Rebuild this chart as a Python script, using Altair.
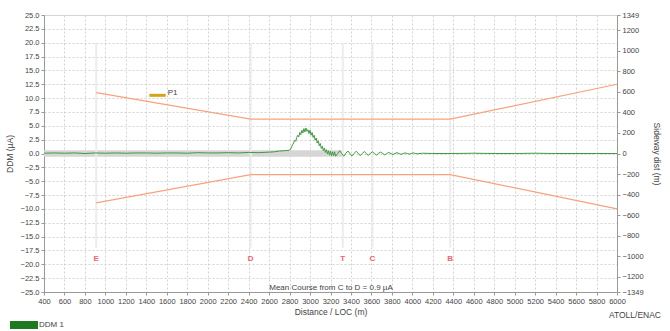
import altair as alt
import pandas as pd

# ---- DDM trace (distance in m, DDM in µA) ----
ddm_dist = [
    400, 500, 600, 700, 800, 900, 1000, 1100, 1200, 1300, 1400, 1500, 1600, 1700,
    1800, 1900, 2000, 2100, 2200, 2300, 2400, 2500, 2600, 2650, 2700, 2750,
    2800, 2810, 2820, 2830, 2840, 2850, 2860, 2870, 2880, 2890, 2900, 2910, 2920,
    2930, 2940, 2950, 2960, 2970, 2980, 2990, 3000, 3010, 3020, 3030, 3040, 3050,
    3060, 3070, 3080, 3090, 3100, 3110, 3120, 3130, 3140, 3150, 3160, 3170, 3180,
    3190, 3200, 3210, 3220, 3230, 3240,
    3250, 3270, 3290, 3310, 3330, 3350, 3370, 3390, 3410, 3430, 3450, 3470, 3490,
    3510, 3530, 3550, 3570, 3590, 3610, 3630, 3650, 3670, 3690, 3710, 3730, 3750,
    3770, 3790, 3810, 3830, 3850, 3870, 3890, 3910, 3930, 3950, 3970, 3990, 4010,
    4030, 4050, 4100, 4200, 4400, 4600, 4800, 5000, 5200, 5400, 5600, 5800, 6000,
]
ddm_value = [
    0.05, 0.1, 0.05, 0.1, 0.0, 0.1, 0.05, 0.1, 0.05, 0.1, 0.1, 0.05, 0.1, 0.1,
    0.05, 0.15, 0.1, 0.1, 0.15, 0.1, 0.2, 0.15, 0.25, 0.3, 0.45, 0.5,
    0.6, 0.8, 1.2, 1.6, 1.9, 2.4, 2.2, 2.9, 3.3, 3.0, 3.8, 3.4, 4.2,
    3.7, 4.5, 3.9, 4.6, 4.0, 4.3, 3.6, 4.2, 3.3, 3.8, 2.9, 3.3, 2.4,
    2.8, 1.9, 2.3, 1.4, 1.8, 0.9, 1.3, 0.5, 1.0, 0.2, 0.7, -0.1, 0.5,
    -0.3, 0.4, -0.4, 0.3, -0.4, 0.3,
    -0.5, 0.0, 0.5, 0.0, -0.5, 0.05, 0.45, 0.0, -0.45, 0.0, 0.4, 0.05, -0.4,
    0.0, 0.35, 0.0, -0.35, 0.05, 0.3, 0.0, -0.3, 0.05, 0.25, 0.0, -0.25, 0.0,
    0.2, 0.0, -0.2, 0.0, 0.15, 0.0, -0.15, 0.0, 0.1, 0.0, -0.1, 0.0, 0.1,
    0.0, -0.05, 0.05, 0.0, 0.0, 0.05, 0.0, 0.0, 0.05, 0.0, 0.0, 0.0, 0.0,
]

# ---- tolerance envelope ----
limit_dist = [910, 2420, 4370, 6000]
limit_upper = [11.0, 6.2, 6.2, 12.5]
limit_lower = [-8.9, -3.8, -3.8, -10.0]

# ---- reference points along the approach ----
point_names = ["E", "D", "T", "C", "B"]
point_dist = [910, 2420, 3320, 3610, 4370]

# ---- grey band around the course line ----
band_start, band_end = [400], [3320]
band_low, band_high = [-0.6], [0.6]

# ---- P1 marker ----
p1_start, p1_end, p1_ddm = [1430], [1590], [10.5]

x_ticks = list(range(400, 6001, 200))
y_ticks = [v / 2 for v in range(-50, 51, 5)]
side_ticks = [-1349, -1200, -1000, -800, -600, -400, -200, 0,
              200, 400, 600, 800, 1000, 1200, 1349]

FONT = "Liberation Sans"
TXT = "#444444"

x_scale = alt.Scale(domain=[400, 6000], nice=False, zero=False)
y_scale = alt.Scale(domain=[-25, 25], nice=False)

x_axis = alt.Axis(values=x_ticks, format="d", title="Distance / LOC (m)",
                  labelOverlap=False, labelFlush=False, grid=True, gridDash=[2, 2],
                  gridColor="#d2d2d2", labelFontSize=7.5, titleFontSize=8.5,
                  titleFontWeight="normal", labelColor=TXT, titleColor=TXT,
                  domainColor="#999999", tickColor="#999999", tickSize=3,
                  labelPadding=2, titlePadding=3, labelFont=FONT, titleFont=FONT)
y_axis = alt.Axis(values=y_ticks, format=".1f", title="DDM (µA)", labelOverlap=False,
                  labelFlush=False, grid=True, gridDash=[2, 2], gridColor="#d2d2d2",
                  labelFontSize=7.5, titleFontSize=8.5, titleFontWeight="normal",
                  labelColor=TXT, titleColor=TXT, domainColor="#999999",
                  tickColor="#999999", tickSize=3, labelPadding=2, titlePadding=6,
                  labelFont=FONT, titleFont=FONT)


def X(field):
    return alt.X(field, type="quantitative", scale=x_scale, axis=x_axis)


def Y(field):
    return alt.Y(field, type="quantitative", scale=y_scale, axis=y_axis)


ddm_df = pd.DataFrame({"dist": ddm_dist, "ddm": ddm_value})
lim_df = pd.DataFrame({"dist": limit_dist, "upper": limit_upper, "lower": limit_lower})
pt_df = pd.DataFrame({"dist": point_dist, "name": point_names,
                      "top": [20.0] * len(point_dist), "bot": [-17.0] * len(point_dist),
                      "lab": [-19.0] * len(point_dist)})
band_df = pd.DataFrame({"x1": band_start, "x2": band_end, "y1": band_low, "y2": band_high})
p1_df = pd.DataFrame({"x1": p1_start, "x2": p1_end, "y": p1_ddm, "t": ["P1"]})

band = alt.Chart(band_df).mark_rect(color="#d6d6d6").encode(
    x=X("x1"), x2="x2:Q", y=Y("y1"), y2="y2:Q")

point_rules = alt.Chart(pt_df).mark_rule(color="#ececec", strokeWidth=2).encode(
    x=X("dist"), y=Y("top"), y2="bot:Q")

point_labels = alt.Chart(pt_df).mark_text(color="#f06070", fontSize=8, font=FONT,
                                          fontWeight="bold").encode(
    x=X("dist"), y=Y("lab"), text="name:N")

upper = alt.Chart(lim_df).mark_line(color="#f8a27c", strokeWidth=1.2).encode(
    x=X("dist"), y=Y("upper"))
lower = alt.Chart(lim_df).mark_line(color="#f8a27c", strokeWidth=1.2).encode(
    x=X("dist"), y=Y("lower"))

ddm_line = alt.Chart(ddm_df).mark_line(color="#3f9b3f", strokeWidth=1).encode(
    x=X("dist"), y=Y("ddm"))

p1_bar = alt.Chart(p1_df).mark_rule(color="#d4a418", strokeWidth=3).encode(
    x=X("x1"), x2="x2:Q", y=Y("y"))
p1_text = alt.Chart(p1_df).mark_text(align="left", baseline="bottom", dx=2, dy=2,
                                     fontSize=8, font=FONT, color=TXT).encode(
    x=X("x2"), y=Y("y"), text="t:N")

note_df = pd.DataFrame({"t": ["Mean Course from C to D = 0.9 µA"]})
note = alt.Chart(note_df).mark_text(fontSize=8, font=FONT, color=TXT).encode(
    x=alt.value(287), y=alt.value(273), text="t:N")

credit = alt.Chart(pd.DataFrame({"t": ["ATOLL/ENAC"]})).mark_text(
    align="right", fontSize=8.5, font=FONT, color=TXT).encode(
    x=alt.value(617), y=alt.value(300), text="t:N")

legend_swatch = alt.Chart(pd.DataFrame({"t": ["DDM 1"]})).mark_rect(
    color="#1f7a1f").encode(x=alt.value(-34), x2=alt.value(-6),
                            y=alt.value(306), y2=alt.value(314))
legend_text = alt.Chart(pd.DataFrame({"t": ["DDM 1"]})).mark_text(
    align="left", fontSize=8, font=FONT, color=TXT).encode(
    x=alt.value(-5), y=alt.value(310), text="t:N")

ddm_layer = alt.layer(band, point_rules, point_labels, upper, lower, ddm_line,
                      p1_bar, p1_text, note, credit, legend_swatch, legend_text)

# secondary axis: lateral distance in metres
side_df = pd.DataFrame({"dist": [400, 400], "side": [-1349, 1349]})
side_layer = alt.Chart(side_df).mark_point(opacity=0).encode(
    x=X("dist"),
    y=alt.Y("side:Q", scale=alt.Scale(domain=[-1349, 1349], nice=False),
            axis=alt.Axis(orient="right", values=side_ticks, format="d",
                          title="Sideway dist (m)", grid=False, labelOverlap=False,
                          labelFlush=False, labelFontSize=7.5, titleFontSize=8.5,
                          titleFontWeight="normal", labelColor=TXT, titleColor=TXT,
                          domainColor="#999999", tickColor="#999999", tickSize=3,
                          labelPadding=2, titlePadding=8, labelFont=FONT,
                          titleFont=FONT)))

chart = alt.layer(ddm_layer, side_layer).resolve_scale(y="independent").properties(
    width=573, height=277,
    autosize=alt.AutoSizeParams(type="none"),
    padding={"left": 44, "top": 15, "right": 53, "bottom": 39},
    background="white",
).configure_view(stroke="#d8d8d8", strokeWidth=1)

chart.save("out.html", embed_options={"renderer": "svg", "actions": False})
